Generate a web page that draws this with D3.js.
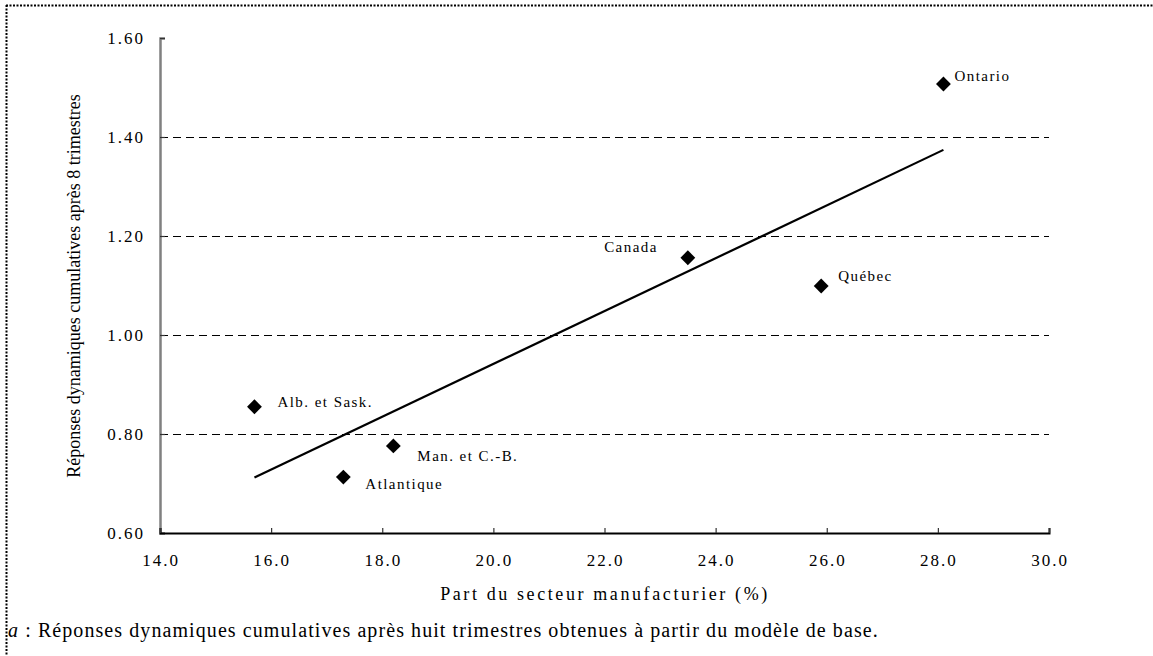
<!DOCTYPE html>
<html>
<head>
<meta charset="utf-8">
<script src="https://cdn.jsdelivr.net/npm/d3@7"></script>
<style>
  html, body { margin: 0; padding: 0; background: #fff; }
  svg { display: block; }
  text { font-family: "Liberation Serif", "Times New Roman", serif; fill: #000; }
</style>
</head>
<body>
<svg id="chart" width="1153" height="656"></svg>
<script>
// Provinces / regions plotted
const regions = ["Ontario", "Canada", "Québec", "Alb. et Sask.", "Man. et C.-B.", "Atlantique"];
// Manufacturing share (%)
const manufShare = [28.1, 23.5, 25.9, 15.7, 18.2, 17.3];
// Cumulative dynamic responses after 8 quarters
const responses = [1.507, 1.156, 1.099, 0.855, 0.776, 0.713];
// Fitted trend line endpoints
const trendX = [15.7, 28.1];
const trendY = [0.712, 1.374];
// Axis ticks
const xTicks = [14, 16, 18, 20, 22, 24, 26, 28, 30];
const yTicks = [0.6, 0.8, 1.0, 1.2, 1.4, 1.6];
const gridTicks = [0.8, 1.0, 1.2, 1.4];

// Label offsets relative to each point: [dx, dy, anchor]
const labelPos = {
  "Ontario": [11, -3, "start"],
  "Canada": [-30, -6, "end"],
  "Québec": [17, -5, "start"],
  "Alb. et Sask.": [23, 0, "start"],
  "Man. et C.-B.": [24, 15, "start"],
  "Atlantique": [22, 12, "start"]
};

const svg = d3.select("#chart");

const x = d3.scaleLinear().domain([14, 30]).range([160, 1049]);
const y = d3.scaleLinear().domain([0.6, 1.6]).range([533, 38]);

// Dotted frame (top and left edges)
svg.append("line").attr("x1", 6).attr("x2", 1153).attr("y1", 5.5).attr("y2", 5.5)
  .attr("stroke", "#000").attr("stroke-width", 2).attr("stroke-dasharray", "2,1.5");
svg.append("line").attr("x1", 6.5).attr("x2", 6.5).attr("y1", 5).attr("y2", 656)
  .attr("stroke", "#000").attr("stroke-width", 2).attr("stroke-dasharray", "2,1.5");

// Dashed horizontal gridlines
svg.append("g").selectAll("line").data(gridTicks).join("line")
  .attr("x1", x(14)).attr("x2", x(30))
  .attr("y1", d => Math.round(y(d)) + 0.5).attr("y2", d => Math.round(y(d)) + 0.5)
  .attr("stroke", "#000").attr("stroke-width", 1).attr("stroke-dasharray", "8,5");

// Y axis (ticks point inward)
const yAxis = d3.axisRight(y).tickValues(yTicks).tickSize(5).tickFormat("");
const gy = svg.append("g").attr("transform", `translate(${x(14)},0)`).call(yAxis);
gy.select(".domain").attr("stroke", "#808080").attr("stroke-width", 2.5);
gy.selectAll(".tick line").attr("stroke", "#333").attr("stroke-width", 1.2);
svg.append("g").selectAll("text").data(yTicks).join("text")
  .attr("x", 145).attr("y", d => y(d) + 6)
  .attr("text-anchor", "end")
  .style("font-size", "17px").style("letter-spacing", "2px")
  .text(d => d3.format(".2f")(d));

// X axis (ticks point upward)
const xAxis = d3.axisTop(x).tickValues(xTicks).tickSize(5).tickFormat("");
const gx = svg.append("g").attr("transform", `translate(0,${y(0.6)})`).call(xAxis);
gx.select(".domain").attr("stroke", "#000").attr("stroke-width", 2);
gx.selectAll(".tick line").attr("stroke", "#333").attr("stroke-width", 1.2);
svg.append("g").selectAll("text").data(xTicks).join("text")
  .attr("x", d => x(d) + 1).attr("y", 566)
  .attr("text-anchor", "middle")
  .style("font-size", "17px").style("letter-spacing", "2px")
  .text(d => d3.format(".1f")(d));

// Axis titles
svg.append("text")
  .attr("x", 605).attr("y", 600)
  .attr("text-anchor", "middle")
  .style("font-size", "18px").style("letter-spacing", "2.6px")
  .text("Part du secteur manufacturier (%)");
svg.append("text")
  .attr("transform", `translate(80,${286}) rotate(-90)`)
  .attr("text-anchor", "middle")
  .style("font-size", "18px")
  .text("Réponses dynamiques cumulatives après 8 trimestres");

// Trend line
svg.append("line")
  .attr("x1", x(trendX[0])).attr("y1", y(trendY[0]))
  .attr("x2", x(trendX[1])).attr("y2", y(trendY[1]))
  .attr("stroke", "#000").attr("stroke-width", 2.2);

// Data points (diamonds)
const pts = regions.map((r, i) => ({ name: r, xv: manufShare[i], yv: responses[i] }));
const diamond = d3.symbol().type(d3.symbolSquare).size(110);
svg.append("g").selectAll("path").data(pts).join("path")
  .attr("d", diamond)
  .attr("transform", d => `translate(${x(d.xv)},${y(d.yv)}) rotate(45)`)
  .attr("fill", "#000");

// Point labels
svg.append("g").selectAll("text").data(pts).join("text")
  .attr("x", d => x(d.xv) + labelPos[d.name][0])
  .attr("y", d => y(d.yv) + labelPos[d.name][1])
  .attr("text-anchor", d => labelPos[d.name][2])
  .style("font-size", "15px").style("letter-spacing", "1.45px")
  .text(d => d.name);

// Footnote
const note = svg.append("text").attr("x", 8).attr("y", 637)
  .style("font-size", "20px").style("letter-spacing", "1.08px");
note.append("tspan").style("font-style", "italic").text("a");
note.append("tspan").text(" : Réponses dynamiques cumulatives après huit trimestres obtenues à partir du modèle de base.");
</script>
</body>
</html>
